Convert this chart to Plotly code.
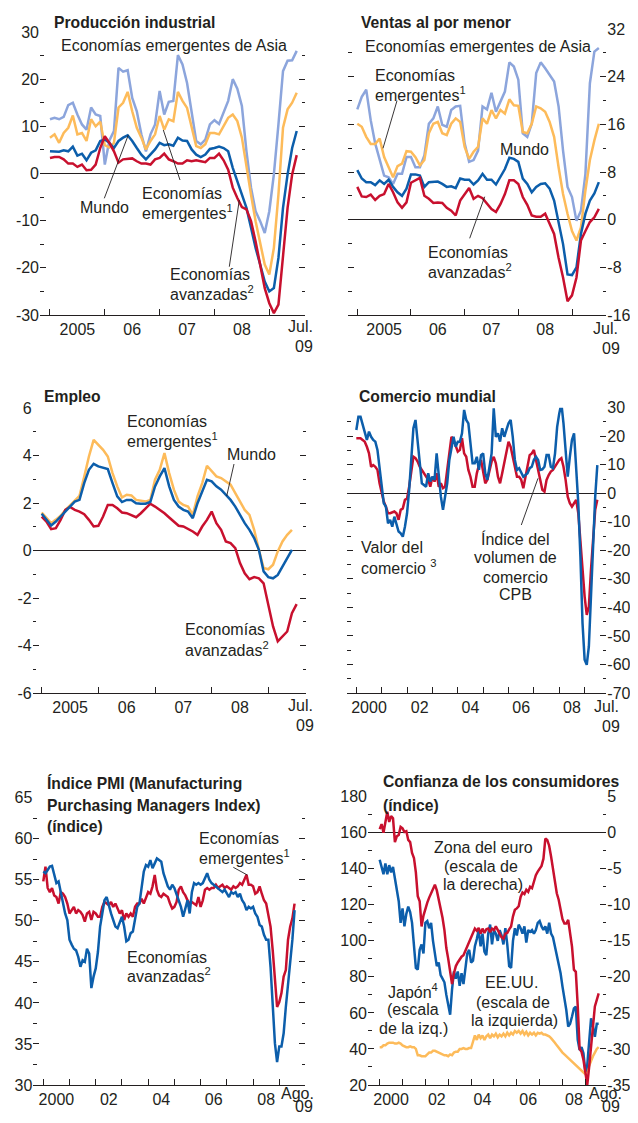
import plotly.graph_objects as go

# page is 638x1123; the browser keeps its default 8px body margin,
# so the figure sits at (8, 8) and is sized to fit inside the window
W, H = 638, 1123
OFF = 8
FW, FH = W - OFF, H - 2 * OFF
FONT = "Liberation Sans, Arial, Helvetica, sans-serif"
INK = "#231f20"
RED = "#c8102e"
BLUE = "#0c5eab"
ORANGE = "#fdbb5a"
LBLUE = "#8ca5dc"
LW = 2.5

# ---------------- data ----------------
# 1) Producción industrial, monthly Jan 2005 - Jul 2009
ip_start = 2005
ip_asia = [11.5, 11.8, 11.5, 12.0, 14.5, 15.0, 12.5, 10.4, 9.3, 14.0, 12.5, 12.2,
           1.9, 7.0, 9.0, 22.4, 21.6, 21.9, 16.0, 13.2, 8.3, 4.7, 8.3, 10.4,
           17.5, 12.5, 15.2, 15.4, 25.1, 23.1, 19.2, 12.5, 6.9, 6.2, 7.2, 10.4,
           11.3, 10.5, 12.9, 15.4, 20.0, 18.0, 14.3, 4.7, -3.0, -8.0, -10.1, -12.6,
           -8.0, -0.2, 10.4, 21.7, 23.9, 24.0, 26.0]
ip_emerging = [7.6, 8.3, 6.5, 8.6, 9.7, 12.3, 8.3, 8.6, 6.9, 11.5, 10.0, 11.0,
               6.0, 5.5, 6.5, 14.0, 15.0, 17.3, 13.2, 9.7, 7.6, 5.1, 6.9, 8.3,
               12.2, 9.3, 11.5, 11.1, 17.3, 15.4, 13.9, 10.0, 5.8, 5.4, 6.2, 8.6,
               8.6, 8.3, 10.0, 11.8, 12.5, 11.1, 7.6, 1.2, -4.5, -10.1, -14.4, -19.3,
               -21.4, -15.8, -4.5, 9.7, 13.6, 15.0, 17.1]
ip_world = [4.7, 4.7, 4.6, 4.9, 4.7, 5.7, 3.8, 4.2, 2.8, 4.4, 4.9, 6.9,
            7.2, 6.5, 5.4, 6.9, 7.6, 8.1, 6.9, 5.4, 4.0, 3.0, 4.0, 5.1,
            6.5, 6.0, 6.2, 5.9, 7.6, 7.0, 6.9, 5.1, 4.0, 3.5, 4.0, 5.2,
            5.4, 5.7, 5.4, 4.7, 1.2, -1.6, -4.5, -7.3, -11.5, -15.8, -19.3, -22.9,
            -25.0, -24.3, -17.9, -7.3, -0.2, 5.4, 9.0]
ip_advanced = [3.3, 3.5, 3.5, 3.0, 2.1, 2.1, 1.4, 1.9, 0.7, 0.8, 1.9, 5.4,
               7.9, 6.5, 4.7, 2.3, 3.0, 3.1, 3.2, 2.6, 2.1, 2.1, 1.9, 3.0,
               3.3, 4.2, 3.0, 2.6, 2.1, 2.1, 2.8, 2.6, 2.8, 2.6, 2.4, 3.3,
               3.3, 4.2, 2.8, 0.8, -3.0, -5.2, -7.1, -7.6, -10.1, -14.4, -19.3, -24.3,
               -27.5, -29.6, -27.8, -17.9, -7.3, -0.2, 3.9]

# 2) Ventas al por menor, monthly Jan 2005 - Jul 2009
rs_start = 2005
rs_asia = [18.5, 20.6, 21.8, 16.7, 12.8, 10.0, 7.4, 7.1, 6.0, 7.7, 7.7, 10.5,
           10.5, 8.8, 8.8, 10.8, 16.1, 17.0, 19.0, 15.9, 15.6, 18.4, 19.0, 19.1,
           12.8, 9.7, 10.0, 11.6, 19.0, 18.5, 21.3, 18.1, 19.8, 21.5, 26.4, 25.7,
           23.5, 14.5, 13.9, 16.1, 24.6, 26.4, 25.4, 24.3, 23.2, 19.0, 11.6, 5.5,
           3.8, -0.2, 1.5, 7.7, 22.9, 28.2, 28.8]
rs_emerging = [16.1, 15.6, 13.9, 12.7, 12.7, 13.6, 10.5, 8.8, 7.1, 9.0, 9.4, 11.5,
               11.4, 10.5, 9.1, 10.0, 14.5, 16.1, 16.4, 14.5, 14.2, 16.1, 17.0, 16.4,
               12.2, 10.2, 11.4, 12.2, 17.0, 16.1, 18.4, 17.0, 18.4, 17.8, 20.2, 19.2,
               19.1, 14.7, 14.5, 16.1, 19.0, 18.7, 18.1, 16.4, 13.9, 8.8, 4.3, 1.0,
               -1.9, -3.5, -1.3, 4.9, 10.0, 13.3, 16.1]
rs_world = [8.3, 6.9, 6.3, 6.3, 5.8, 6.6, 6.0, 6.7, 5.5, 4.6, 4.0, 5.2,
            7.6, 7.6, 7.4, 5.5, 6.3, 6.3, 6.4, 6.0, 5.5, 5.6, 5.3, 6.9,
            6.7, 6.7, 5.9, 6.6, 7.7, 6.7, 6.7, 5.9, 7.1, 8.5, 10.4, 10.2,
            9.7, 6.9, 6.0, 4.6, 5.5, 6.0, 6.1, 5.2, 3.2, -0.2, -4.1, -9.2,
            -9.3, -8.0, -2.4, 1.0, 3.2, 4.4, 6.3]
rs_advanced = [5.5, 3.9, 3.8, 4.2, 3.3, 4.0, 4.3, 6.0, 4.6, 2.9, 2.0, 2.9,
               6.2, 6.6, 7.0, 4.0, 3.5, 2.8, 2.9, 2.8, 2.0, 1.5, 0.7, 3.2,
               4.2, 5.3, 3.5, 4.0, 3.6, 2.6, 1.8, 1.3, 2.6, 4.3, 6.6, 6.6,
               6.0, 3.8, 2.5, 0.7, 0.5, 0.5, 1.0, -0.7, -2.4, -6.4, -9.7, -13.7,
               -12.7, -9.7, -3.5, -1.9, -0.4, 0.4, 1.8]

# 3) Empleo, monthly from Jan 2005
em_start = 2005
em_emerging = [1.6, 1.36, 1.15, 1.3, 1.46, 1.7, 1.9, 2.06, 2.3, 3.1, 3.96, 4.66,
               4.45, 4.24, 3.96, 3.26, 2.7, 2.23, 2.35, 2.32, 2.13, 2.09, 2.06, 2.13,
               2.98, 3.4, 4.1, 3.26, 2.56, 2.06, 1.92, 1.85, 1.5, 2.28, 2.84, 3.57,
               3.33, 3.12, 3.05, 2.9, 2.77, 2.42, 2.06, 1.71, 1.5, 0.87, 0.03, -0.74,
               -0.79, -0.6, -0.04, 0.38, 0.66, 0.87]
em_world = [1.55, 1.3, 1.05, 1.22, 1.43, 1.64, 1.85, 2.06, 2.13, 2.84, 3.4, 3.65,
            3.54, 3.47, 3.43, 2.84, 2.28, 2.04, 2.13, 2.13, 1.99, 1.97, 1.97, 2.04,
            2.7, 3.12, 3.47, 2.7, 2.13, 1.85, 1.71, 1.64, 1.36, 1.99, 2.49, 2.98,
            2.91, 2.7, 2.56, 2.35, 2.13, 1.85, 1.5, 1.15, 0.87, 0.52, 0.03, -0.88,
            -1.12, -1.17, -1.03, -0.67, -0.32, 0.03]
em_advanced = [1.43, 1.22, 0.9, 0.94, 1.29, 1.71, 1.83, 1.71, 1.64, 1.53, 1.29, 1.01,
               1.04, 1.43, 1.92, 1.92, 1.78, 1.6, 1.57, 1.5, 1.4, 1.57, 1.78, 1.97,
               1.85, 1.71, 1.57, 1.39, 1.22, 1.04, 1.01, 0.91, 0.8, 0.66, 1.01, 1.29,
               1.64, 1.15, 0.87, 0.38, 0.31, 0.1, -0.53, -0.96, -1.21, -1.12, -1.17, -1.38,
               -2.36, -3.2, -3.83, -3.62, -3.41, -2.64, -2.26]

# 4) Comercio mundial, monthly Jan 2000 - Jul 2009
tr_start = 2000
tr_value = [22.2, 26.8, 26.8, 23.9, 21.0, 18.7, 21.6, 19.8, 18.7, 18.1, 15.2, 8.2,
            1.2, -3.5, -4.7, -10.5, -9.3, -11.7, -8.2, -10.5, -13.4, -14.0, -15.2, -11.7,
            -7.0, 1.2, 14.0, 22.8, 25.7, 18.7, 10.5, 3.5, 2.9, 2.3, 7.0, 4.1,
            5.8, 4.7, 14.0, 5.8, -1.2, -5.8, -1.2, 3.5, 11.7, 16.3, 19.8, 16.3,
            18.1, 18.1, 21.0, 29.2, 25.7, 24.5, 16.3, 10.5, 10.5, 12.8, 8.2, 13.4,
            14.0, 7.0, 4.7, 9.3, 14.0, 29.8, 19.8, 21.0, 18.1, 22.8, 19.8, 22.2,
            24.5, 25.7, 19.8, 11.7, 8.2, 8.8, 7.0, 5.8, 6.4, 7.0, 8.8, 9.3,
            11.7, 12.8, 11.7, 8.2, 8.4, 9.3, 13.4, 13.4, 9.3, 8.8, 14.0, 23.3,
            28.0, 31.5, 24.5, 15.2, 5.8, 12.8, 18.7, 21.0, 10.5, -3.5, -22.2, -45.5,
            -58.3, -60.1, -53.7, -36.2, -17.5, -1.2, 9.9]
tr_volume = [19.3, 19.3, 19.3, 18.7, 18.1, 16.3, 14.0, 9.3, 9.9, 9.3, 8.2, 3.5,
             0.6, -2.9, -4.7, -7.0, -7.0, -6.8, -6.4, -7.0, -9.3, -5.8, -5.3, -2.3,
             -1.8, 2.3, 8.2, 12.8, 12.3, 11.1, 9.3, 8.2, 7.0, 5.8, 4.7, 2.3,
             5.8, 4.1, 7.0, 2.3, 3.5, 1.8, 2.3, 8.2, 14.0, 19.8, 18.7, 16.9,
             14.6, 15.2, 19.3, 14.0, 12.8, 8.2, 5.8, 2.3, 2.3, 7.0, 9.9, 11.7,
             8.2, 3.5, 4.7, 8.2, 11.1, 12.8, 10.5, 5.8, 3.5, 7.0, 10.5, 15.2,
             18.1, 16.3, 12.8, 8.2, 5.8, 5.8, 4.7, 1.8, 5.8, 10.5, 13.4, 14.0,
             15.2, 11.7, 8.2, 3.5, 1.2, 0.6, 4.7, 6.4, 7.6, 8.2, 9.3, 10.5,
             11.7, 12.3, 9.3, 4.7, -1.2, -3.5, -4.7, -3.5, -2.3, -7.0, -17.5, -26.8,
             -36.2, -42.6, -39.7, -26.8, -15.2, -5.8, -2.3]

# 5) PMI, monthly Jan 2000 - Aug 2009
pmi_start = 2000
pmi_advanced = [56.0, 55.8, 56.2, 56.6, 56.7, 55.6, 54.6, 54.8, 53.5, 52.5, 50.9, 50.1,
                47.7, 47.1, 46.6, 46.4, 45.6, 44.4, 45.2, 45.0, 46.6, 46.0, 41.8, 43.2,
                44.2, 46.2, 49.3, 50.9, 52.5, 52.9, 51.7, 50.9, 50.1, 49.3, 49.1, 49.7,
                50.5, 49.3, 47.5, 47.7, 48.5, 48.7, 50.1, 51.7, 52.1, 53.8, 56.0, 56.8,
                56.6, 57.4, 56.4, 57.0, 57.6, 57.4, 57.2, 55.8, 55.0, 54.2, 53.8, 54.4,
                54.0, 53.3, 52.5, 51.7, 50.5, 51.7, 52.5, 50.9, 53.5, 54.6, 54.4, 54.6,
                54.4, 54.6, 55.2, 55.8, 55.0, 54.6, 54.4, 54.2, 54.0, 53.8, 53.5, 53.8,
                53.3, 52.9, 53.5, 53.3, 53.5, 52.9, 53.3, 52.5, 52.1, 51.3, 51.7, 51.5,
                51.7, 50.9, 50.5, 49.5, 49.3, 48.3, 47.7, 47.7, 44.4, 39.5, 35.1, 32.8,
                34.7, 34.7, 36.3, 39.5, 42.4, 44.4, 47.7, 51.3]
pmi_emerging = [54.8, 56.6, 54.0, 53.5, 54.0, 53.1, 52.9, 52.1, 53.5, 53.3, 52.9, 52.1,
                50.9, 51.3, 51.7, 50.9, 51.3, 51.1, 50.7, 49.9, 50.9, 51.1, 50.1, 51.1,
                50.9, 50.5, 50.5, 51.7, 52.3, 52.1, 51.9, 52.3, 51.7, 52.1, 51.5, 50.9,
                51.3, 50.1, 50.9, 50.5, 50.9, 50.5, 51.7, 52.1, 52.1, 52.7, 52.1, 52.9,
                53.5, 53.3, 54.2, 55.6, 53.8, 53.1, 52.9, 53.3, 53.1, 52.9, 52.1, 51.5,
                51.7, 52.3, 53.8, 54.2, 53.5, 53.1, 52.5, 52.1, 52.3, 52.1, 51.9, 52.9,
                51.7, 52.5, 53.8, 54.0, 53.8, 54.0, 54.0, 54.4, 54.0, 54.2, 54.4, 54.0,
                54.2, 54.0, 53.8, 54.2, 54.0, 54.2, 54.6, 54.4, 55.0, 55.6, 54.4, 54.4,
                54.2, 53.3, 53.5, 54.2, 53.3, 52.5, 52.1, 50.5, 49.3, 46.4, 43.2, 39.5,
                40.1, 41.2, 43.2, 44.0, 47.7, 49.3, 50.3, 52.1]

# 6) Confianza de los consumidores, monthly Jan 2000 - Aug 2009
cc_start = 2000
cc_euro = [0.5, 1.2, 0.0, 1.5, 2.9, 1.5, 2.3, 2.0, -1.3, -0.5, -0.3, 0.8,
           0.6, 0.1, 0.2, -1.0, -1.3, -2.8, -3.5, -5.5, -8.8, -9.5, -13.0, -11.5,
           -10.5, -9.7, -9.0, -8.4, -7.8, -7.2, -8.0, -9.2, -10.5, -11.8, -13.5, -16.0,
           -17.5, -19.0, -21.0, -19.5, -18.5, -18.0, -17.5, -17.2, -17.0, -16.4, -15.8, -15.0,
           -14.6, -13.8, -13.3, -13.6, -13.2, -14.0, -13.3, -13.9, -13.4, -13.3, -13.8, -13.3,
           -13.5, -13.0, -13.6, -14.0, -14.5, -14.7, -14.0, -13.9, -13.4, -13.0, -11.6, -10.7,
           -10.5, -10.2, -8.9, -8.3, -8.5, -7.9, -8.2, -7.5, -7.7, -6.6, -5.9, -5.4,
           -4.9, -4.6, -3.6, -0.8, -1.0, -1.8, -3.3, -5.2, -6.6, -8.4, -9.3, -10.5,
           -12.0, -12.6, -12.6, -12.1, -14.0, -15.8, -19.0, -19.3, -24.0, -30.0, -30.4, -31.5,
           -33.2, -35.0, -32.5, -29.2, -26.9, -24.1, -23.0, -22.3]
cc_us = [145, 141, 137, 143, 137, 142, 138, 141, 135, 130, 122, 110,
         118, 108, 115, 119, 116, 110, 96, 85, 84, 95, 98, 93,
         110, 111, 107, 110, 100, 92, 86, 88, 81, 79, 77, 70,
         64, 59, 73, 83, 79, 83, 75, 82, 76, 85, 93, 95,
         88, 89, 97, 101, 106, 97, 104, 94, 92, 104, 109, 98,
         106, 104, 100, 106, 103, 98, 107, 98, 86, 85, 100, 107,
         103, 109, 107, 104, 108, 99, 106, 105, 106, 104, 106, 110,
         111, 108, 106, 108, 104, 110, 104, 102, 97, 91, 87.5, 82,
         74.6, 69, 61.6, 52.4, 54, 58, 62.5, 63.5, 45, 39.4, 41, 37.6,
         27.4, 31, 44, 57, 52.4, 46.8, 54, 54]
cc_japan = [41, 41, 42, 42, 43, 43.5, 43.5, 43.5, 43, 43, 43.5, 43,
            42, 41.5, 41, 41, 41.5, 41, 41, 40, 36.5, 36.5, 36, 36,
            36, 37, 38, 38, 39, 39, 38.5, 38, 37.5, 37, 36.5, 36.5,
            36, 37, 36.5, 38, 38.5, 38.5, 40, 40, 40.5, 40, 40, 40.5,
            40.5, 44, 47.5, 45, 48, 46, 47.5, 45, 47, 48, 46, 48,
            47, 48.5, 46.5, 48, 47, 48.5, 47, 49, 47.5, 49, 48, 50,
            49, 50, 48.5, 50, 48, 49.5, 47.5, 49, 48, 49, 47.5, 49,
            48.5, 49, 48, 48, 47.5, 47, 46, 45, 43.5, 42, 40.5, 39,
            38, 37, 36, 35, 34, 33, 32, 31, 30, 29, 28, 27,
            26, 28, 31, 34, 36, 38, 40, 41]

# tick labels
years_05 = [2005, 2006, 2007, 2008, 2009]
labels_05 = ["2005", "06", "07", "08"]
years_00 = list(range(2000, 2010))
labels_00 = ["2000", "02", "04", "06", "08"]
end_jul = ["Jul.", "09"]
end_ago = ["Ago.", "09"]


def months(start, n):
    return [start + i / 12 for i in range(n)]


def fx(px):
    return (px - OFF) / FW


def fy(py):
    return 1 - (py - OFF) / FH


fig = go.Figure()


def add_line(ys, start, color, xa, ya):
    fig.add_trace(go.Scatter(x=months(start, len(ys)), y=ys, mode="lines",
                             line=dict(color=color, width=LW), xaxis=xa, yaxis=ya,
                             hoverinfo="skip", showlegend=False))


TF = dict(family=FONT, size=16, color=INK)


def xaxis(px, rng, anchor, years, labels):
    mids = [(int(l) if len(l) == 4 else 2000 + int(l)) + 0.5 for l in labels]
    return dict(domain=[fx(px[0]), fx(px[1])], range=list(rng), anchor=anchor,
                showline=True, linecolor=INK, linewidth=1, showgrid=False, zeroline=False,
                tickmode="array", tickvals=mids, ticktext=labels, ticks="",
                tickfont=TF, fixedrange=True, automargin=False,
                minor=dict(tickmode="array", tickvals=years, ticks="inside", ticklen=6,
                           tickwidth=1, tickcolor=INK, showgrid=False))


def yaxis(py, rng, anchor, step, side, mirror):
    major, minor = [], []
    k = 0
    v = rng[0]
    while v <= rng[1] + 1e-9:
        (major if k % 2 == 0 else minor).append(v)
        k += 1
        v = rng[0] + k * step
    d = dict(domain=[fy(py[1]), fy(py[0])], range=list(rng), anchor=anchor, side=side,
             showline=False, showgrid=False, zeroline=True, zerolinecolor=INK,
             zerolinewidth=1, tickmode="array", tickvals=major,
             ticktext=["%g" % m for m in major],
             ticks="inside", ticklen=6, tickwidth=1, tickcolor=INK, tickfont=TF,
             fixedrange=True, automargin=False,
             minor=dict(tickmode="array", tickvals=minor, ticks="inside", ticklen=3.5,
                        tickwidth=1, tickcolor=INK, showgrid=False))
    if mirror:
        d["mirror"] = "ticks"
    return d


layout = {}
layout["xaxis"] = xaxis((40, 305), (2004.818, 2009.651), "y", years_05, labels_05)
layout["yaxis"] = yaxis((32, 315), (-30, 30), "x", 5, "left", True)
layout["xaxis2"] = xaxis((348, 606.3), (2004.827, 2009.639), "y2", years_05, labels_05)
layout["yaxis2"] = yaxis((29, 315), (-16, 32), "x2", 4, "right", True)
layout["xaxis3"] = xaxis((32.7, 306), (2004.841, 2009.665), "y3", years_05, labels_05)
layout["yaxis3"] = yaxis((408, 693), (-6, 6), "x3", 1, "left", True)
layout["xaxis4"] = xaxis((347.3, 606.3), (1999.645, 2009.854), "y4", years_00, labels_00)
layout["yaxis4"] = yaxis((407.7, 693), (-70, 30), "x4", 5, "right", True)
layout["xaxis5"] = xaxis((33.3, 305), (1999.619, 2009.981), "y5", years_00, labels_00)
layout["yaxis5"] = yaxis((797.7, 1085), (30, 65), "x5", 2.5, "left", True)
layout["xaxis6"] = xaxis((368, 606.3), (1999.489, 2009.917), "y6", years_00, labels_00)
layout["yaxis6"] = yaxis((796.7, 1085), (20, 180), "x6", 10, "left", False)
y7 = yaxis((796.7, 1085), (-35, 5), "x6", 2.5, "right", False)
y7["overlaying"] = "y6"
layout["yaxis7"] = y7

# traces
add_line(ip_asia, ip_start, LBLUE, "x", "y")
add_line(ip_emerging, ip_start, ORANGE, "x", "y")
add_line(ip_world, ip_start, BLUE, "x", "y")
add_line(ip_advanced, ip_start, RED, "x", "y")

add_line(rs_asia, rs_start, LBLUE, "x2", "y2")
add_line(rs_emerging, rs_start, ORANGE, "x2", "y2")
add_line(rs_world, rs_start, BLUE, "x2", "y2")
add_line(rs_advanced, rs_start, RED, "x2", "y2")

add_line(em_emerging, em_start, ORANGE, "x3", "y3")
add_line(em_advanced, em_start, RED, "x3", "y3")
add_line(em_world, em_start, BLUE, "x3", "y3")

add_line(tr_volume, tr_start, RED, "x4", "y4")
add_line(tr_value, tr_start, BLUE, "x4", "y4")

add_line(pmi_emerging, pmi_start, RED, "x5", "y5")
add_line(pmi_advanced, pmi_start, BLUE, "x5", "y5")

add_line(cc_japan, cc_start, ORANGE, "x6", "y6")
add_line(cc_euro, cc_start, RED, "x6", "y7")
add_line(cc_us, cc_start, BLUE, "x6", "y6")

# text annotations (page pixel positions)
notes = [
    ("Producción industrial", 52, 22.5, "left", True),
    ("Economías emergentes de Asia", 59, 45, "left", False),
    ("Mundo", 78, 207, "left", False),
    ("Economías", 140, 193.7, "left", False),
    ("emergentes<sup>1</sup>", 140, 211.7, "left", False),
    ("Economías", 168, 274, "left", False),
    ("avanzadas<sup>2</sup>", 168, 292.5, "left", False),

    ("Ventas al por menor", 358.7, 22.5, "left", True),
    ("Economías emergentes de Asia", 363, 46.3, "left", False),
    ("Economías", 373, 75, "left", False),
    ("emergentes<sup>1</sup>", 373, 94.3, "left", False),
    ("Mundo", 498, 149, "left", False),
    ("Economías", 426.3, 252, "left", False),
    ("avanzadas<sup>2</sup>", 426.3, 271, "left", False),

    ("Empleo", 41.7, 396.2, "left", True),
    ("Economías", 125, 421.7, "left", False),
    ("emergentes<sup>1</sup>", 125, 440.3, "left", False),
    ("Mundo", 225, 454, "left", False),
    ("Economías", 183.3, 629.5, "left", False),
    ("avanzadas<sup>2</sup>", 183.3, 648.7, "left", False),

    ("Comercio mundial", 357.3, 396.2, "left", True),
    ("Valor del", 358.7, 547.3, "left", False),
    ("comercio <sup>3</sup>", 358.7, 567, "left", False),
    ("Índice del", 515, 539, "center", False),
    ("volumen de", 515, 557.5, "center", False),
    ("comercio", 515, 577.7, "center", False),
    ("CPB", 515, 594.5, "center", False),

    ("Índice PMI (Manufacturing", 45, 782.7, "left", True),
    ("Purchasing Managers Index)", 45, 805, "left", True),
    ("(índice)", 45, 826.7, "left", True),
    ("Economías", 197.3, 838.8, "left", False),
    ("emergentes<sup>1</sup>", 197.3, 857, "left", False),
    ("Economías", 125, 957.8, "left", False),
    ("avanzadas<sup>2</sup>", 125, 975.3, "left", False),

    ("Confianza de los consumidores", 381.3, 781.7, "left", True),
    ("(índice)", 381.3, 805, "left", True),
    ("Zona del euro", 483, 847.5, "center", False),
    ("(escala de", 481, 866, "center", False),
    ("la derecha)", 483, 884.2, "center", False),
    ("Japón<sup>4</sup>", 413, 991, "center", False),
    ("(escala", 413, 1009, "center", False),
    ("de la izq.)", 413, 1029, "center", False),
    ("EE.UU.", 511, 982.2, "center", False),
    ("(escala de", 512.5, 1002.5, "center", False),
    ("la izquierda)", 514, 1020.8, "center", False),

    # end-of-axis date labels
    (end_jul[0], 300.3, 326.7, "center", False),
    (end_jul[1], 304, 346.7, "center", False),
    (end_jul[0], 605.8, 328.3, "center", False),
    (end_jul[1], 610.8, 348.3, "center", False),
    (end_jul[0], 300.8, 705.8, "center", False),
    (end_jul[1], 305, 725.8, "center", False),
    (end_jul[0], 606, 706.7, "center", False),
    (end_jul[1], 611, 726.7, "center", False),
    (end_ago[0], 297, 1093, "center", False),
    (end_ago[1], 304, 1106.5, "center", False),
    (end_ago[0], 605, 1093.5, "center", False),
    (end_ago[1], 611, 1106.5, "center", False),
]

annotations = []
for text, x, y, anchor, bold in notes:
    annotations.append(dict(
        text=("<b>%s</b>" % text) if bold else text,
        x=fx(x), y=fy(y), xref="paper", yref="paper", xanchor=anchor, yanchor="middle",
        showarrow=False, font=dict(family=FONT, size=15.7 if bold else 16, color=INK)))

leaders = [
    (104.3, 198.3, 128.3, 135),
    (180, 180, 163.3, 130),
    (229.3, 266.7, 239.3, 200),
    (397, 100.7, 383, 148.3),
    (469.7, 238.3, 484.7, 196.7),
    (234, 464, 226.7, 496),
    (521.3, 525, 538, 478.3),
    (233.3, 867.3, 247.3, 875),
]
shapes = []
for x0, y0, x1, y1 in leaders:
    shapes.append(dict(type="line", xref="paper", yref="paper", x0=fx(x0), y0=fy(y0),
                       x1=fx(x1), y1=fy(y1), line=dict(color=INK, width=0.9)))

fig.update_layout(layout)
fig.update_layout(width=FW, height=FH,
                  margin=dict(l=0, r=0, t=0, b=0, pad=0, autoexpand=False),
                  paper_bgcolor="white", plot_bgcolor="rgba(0,0,0,0)",
                  showlegend=False, annotations=annotations, shapes=shapes,
                  font=dict(family=FONT, color=INK))

fig.write_html("out.html", config={"displayModeBar": False, "staticPlot": True})
